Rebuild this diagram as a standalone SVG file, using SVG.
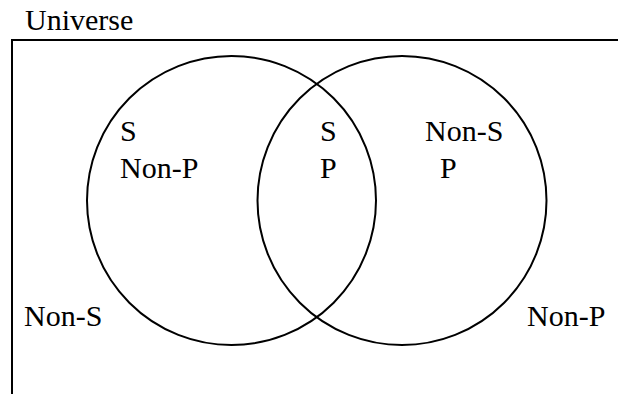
<svg xmlns="http://www.w3.org/2000/svg" width="618" height="394" viewBox="0 0 618 394">
<style>
text{font-family:'Liberation Serif','DejaVu Serif',serif;font-size:30px;fill:#000}
.c{fill:none;stroke:#000;stroke-width:2}
</style>
<rect width="618" height="394" fill="#fff"/>
<g id="universe">
<path class="c" d="M12,395 V40 H619"/>
<text x="25" y="30">Universe</text>
</g>
<g id="circle-s">
<circle class="c" cx="231.5" cy="200.5" r="144.5"/>
</g>
<g id="circle-p">
<circle class="c" cx="402" cy="200.5" r="144.5"/>
</g>
<g id="labels">
<text x="120" y="141">S</text>
<text x="120" y="178">Non-P</text>
<text x="320" y="141">S</text>
<text x="320" y="178">P</text>
<text x="425" y="141">Non-S</text>
<text x="440" y="178">P</text>
<text x="24" y="326">Non-S</text>
<text x="527" y="326">Non-P</text>
</g>
</svg>
